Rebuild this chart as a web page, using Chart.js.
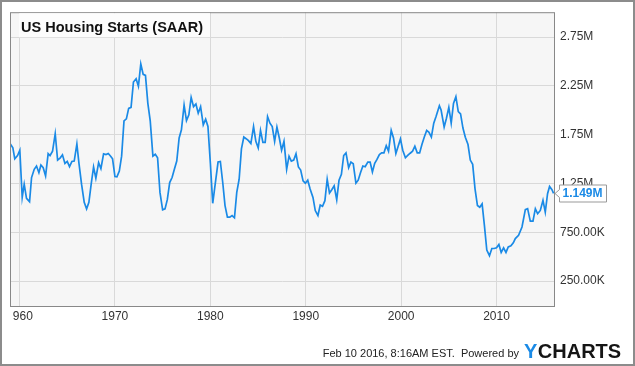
<!DOCTYPE html>
<html><head><meta charset="utf-8">
<script src="https://cdn.jsdelivr.net/npm/chart.js@4.4.1/dist/chart.umd.min.js"></script>
<style>html,body{margin:0;padding:0;background:#fff;overflow:hidden}canvas{display:block}</style>
</head><body>
<canvas id="c" width="635" height="366"></canvas>
<script>
// Decimal-year dates of the plotted readings
const dates = [1959.0,1959.3,1959.5,1959.79,1960.03,1960.28,1960.49,1960.73,1961.05,1961.26,1961.54,1961.78,1962.03,1962.24,1962.48,1962.73,1963.0,1963.2,1963.46,1963.74,1963.99,1964.27,1964.5,1964.76,1965.0,1965.24,1965.49,1965.73,1966.01,1966.22,1966.5,1966.78,1967.03,1967.27,1967.51,1967.76,1968.0,1968.29,1968.53,1968.81,1969.06,1969.3,1969.55,1969.75,1970.0,1970.21,1970.46,1970.7,1970.95,1971.2,1971.44,1971.69,1971.94,1972.22,1972.46,1972.71,1972.96,1973.2,1973.45,1973.7,1973.98,1974.23,1974.47,1974.72,1975.0,1975.25,1975.49,1975.74,1975.99,1976.23,1976.48,1976.73,1976.97,1977.25,1977.5,1977.75,1977.99,1978.24,1978.49,1978.73,1978.98,1979.26,1979.51,1979.75,1980.0,1980.25,1980.53,1980.81,1981.05,1981.3,1981.54,1981.79,1982.04,1982.28,1982.53,1982.77,1983.02,1983.26,1983.51,1983.75,1984.0,1984.25,1984.53,1984.77,1985.02,1985.26,1985.51,1985.75,1986.0,1986.25,1986.49,1986.74,1986.98,1987.23,1987.47,1987.72,1988.0,1988.25,1988.49,1988.74,1988.98,1989.23,1989.47,1989.72,1989.96,1990.21,1990.46,1990.76,1991.0,1991.28,1991.52,1991.76,1992.01,1992.25,1992.49,1992.73,1992.98,1993.25,1993.49,1993.74,1993.98,1994.22,1994.5,1994.74,1994.98,1995.26,1995.5,1995.74,1995.99,1996.23,1996.51,1996.75,1996.99,1997.23,1997.47,1997.72,1997.96,1998.2,1998.44,1998.68,1998.96,1999.2,1999.45,1999.69,1999.93,2000.17,2000.45,2000.69,2000.95,2001.2,2001.44,2001.69,2001.94,2002.18,2002.43,2002.68,2002.92,2003.17,2003.42,2003.66,2004.01,2004.19,2004.51,2004.75,2005.0,2005.25,2005.49,2005.74,2005.99,2006.23,2006.48,2006.73,2007.01,2007.25,2007.5,2007.75,2008.0,2008.24,2008.49,2008.73,2008.98,2009.26,2009.51,2009.75,2010.0,2010.25,2010.49,2010.74,2010.99,2011.23,2011.51,2011.76,2011.97,2012.31,2012.67,2013.02,2013.26,2013.54,2013.82,2014.07,2014.31,2014.59,2014.87,2015.11,2015.35,2015.56,2015.81,2015.98];
// Housing starts, millions of units (SAAR)
const starts = [1.66,1.615,1.503,1.537,1.591,1.108,1.243,1.098,1.064,1.311,1.395,1.429,1.361,1.439,1.412,1.328,1.557,1.537,1.581,1.76,1.49,1.513,1.544,1.456,1.476,1.422,1.476,1.48,1.655,1.463,1.243,1.057,0.99,1.057,1.243,1.419,1.304,1.463,1.402,1.554,1.547,1.557,1.53,1.503,1.321,1.318,1.378,1.53,1.892,1.912,2.02,2.03,2.29,2.324,2.247,2.476,2.368,2.358,2.071,1.892,1.53,1.55,1.514,1.159,0.98,0.99,1.084,1.26,1.311,1.395,1.48,1.716,1.8,2.054,1.895,1.953,2.132,2.037,2.064,1.97,2.037,1.851,1.909,1.834,1.463,1.047,1.26,1.47,1.476,1.26,1.024,0.905,0.905,0.922,0.899,1.159,1.294,1.605,1.726,1.709,1.689,1.659,1.834,1.682,1.615,1.794,1.672,1.672,1.936,1.868,1.834,1.682,1.828,1.716,1.591,1.682,1.395,1.53,1.48,1.49,1.554,1.419,1.388,1.277,1.253,1.284,1.193,1.108,0.973,0.922,1.03,1.017,1.074,1.294,1.152,1.186,1.226,1.084,1.284,1.345,1.537,1.564,1.412,1.47,1.453,1.253,1.284,1.361,1.429,1.422,1.47,1.47,1.368,1.456,1.497,1.547,1.564,1.564,1.638,1.581,1.794,1.716,1.557,1.632,1.706,1.591,1.514,1.537,1.56,1.581,1.632,1.564,1.564,1.649,1.726,1.794,1.774,1.726,1.868,1.936,2.047,2.003,1.828,1.919,2.03,1.868,2.071,2.139,1.986,1.963,1.818,1.723,1.649,1.49,1.446,1.193,1.024,1.007,1.041,0.821,0.568,0.51,0.584,0.584,0.591,0.625,0.544,0.591,0.544,0.601,0.611,0.642,0.686,0.719,0.804,0.982,0.992,0.865,0.865,0.992,0.94,0.974,1.077,0.957,1.145,1.219,1.186,1.149];
const xTicks = [1960,1970,1980,1990,2000,2010];
const yTicks = [0.25,0.75,1.25,1.75,2.25,2.75];
const titleText = 'US Housing Starts (SAAR)';
const lastLabel = '1.149M';
const footerText = 'Feb 10 2016, 8:16AM EST.  Powered by';

const BLUE = '#1a8ae6';
const FONT = '"Liberation Sans", Arial, sans-serif';

const frame = {
  id: 'frame',
  beforeDraw(chart) {
    const {ctx, chartArea: a} = chart;
    ctx.save();
    ctx.fillStyle = '#fff';
    ctx.fillRect(0, 0, chart.width, chart.height);
    ctx.fillStyle = '#f6f6f6';
    ctx.fillRect(a.left, a.top, a.right - a.left, a.bottom - a.top);
    ctx.restore();
  },
  afterDraw(chart) {
    const {ctx, chartArea: a} = chart;
    ctx.save();
    // plot border
    ctx.strokeStyle = '#888';
    ctx.lineWidth = 1;
    ctx.strokeRect(a.left + 0.5, a.top + 0.5, a.right - a.left - 1, a.bottom - a.top);
    // title box
    ctx.fillStyle = 'rgba(252,252,252,1)';
    ctx.fillRect(a.left + 9, a.top + 1, 191, 24);
    ctx.fillStyle = '#111';
    ctx.font = 'bold 14.5px ' + FONT;
    ctx.textBaseline = 'alphabetic';
    ctx.textAlign = 'left';
    ctx.fillText(titleText, a.left + 11, a.top + 19.5);
    // last value tag
    const ys = chart.scales.y;
    const yy = Math.round(ys.getPixelForValue(starts[starts.length - 1])) + 0.5;
    const bx = 559.5, bw = 47, bh = 17;
    ctx.beginPath();
    ctx.moveTo(555, yy);
    ctx.lineTo(bx, yy - 4);
    ctx.lineTo(bx, yy - bh / 2);
    ctx.lineTo(bx + bw, yy - bh / 2);
    ctx.lineTo(bx + bw, yy + bh / 2);
    ctx.lineTo(bx, yy + bh / 2);
    ctx.lineTo(bx, yy + 4);
    ctx.closePath();
    ctx.fillStyle = '#fff';
    ctx.fill();
    ctx.strokeStyle = '#999';
    ctx.stroke();
    ctx.fillStyle = BLUE;
    ctx.font = 'bold 12px ' + FONT;
    ctx.textBaseline = 'middle';
    ctx.fillText(lastLabel, bx + 3, yy + 0.5);
    // footer
    ctx.fillStyle = '#222';
    ctx.font = '11px ' + FONT;
    ctx.textAlign = 'right';
    ctx.textBaseline = 'alphabetic';
    ctx.fillText(footerText, 519, 357);
    ctx.textAlign = 'left';
    ctx.font = 'bold 20px ' + FONT;
    ctx.fillStyle = BLUE;
    ctx.fillText('Y', 524, 357.5);
    const yw = ctx.measureText('Y').width;
    ctx.fillStyle = '#151515';
    ctx.fillText('CHARTS', 524 + yw + 0.5, 357.5);
    // outer frame
    ctx.strokeStyle = '#8c8c8c';
    ctx.lineWidth = 2;
    ctx.strokeRect(1, 1, chart.width - 2, chart.height - 2);
    ctx.restore();
  }
};

new Chart(document.getElementById('c'), {
  type: 'line',
  data: {
    datasets: [{
      data: dates.map((d, i) => ({x: d, y: starts[i]})),
      borderColor: BLUE,
      borderWidth: 1.7,
      pointRadius: 0,
      tension: 0,
      fill: false
    }]
  },
  options: {
    responsive: false,
    animation: false,
    devicePixelRatio: 1,
    layout: {padding: {left: 10, top: 10, right: 0, bottom: 0}},
    plugins: {legend: {display: false}, tooltip: {enabled: false}},
    scales: {
      x: {
        type: 'linear', min: 1959.0, max: 2016.13,
        afterBuildTicks: s => { s.ticks = xTicks.map(v => ({value: v})); },
        afterFit: s => { s.height = 60; },
        grid: {color: '#d9d9d9', lineWidth: 1, drawTicks: false},
        border: {display: false},
        ticks: {
          padding: 3, color: '#333', font: {family: FONT, size: 12}, maxRotation: 0,
          callback: v => v === 1960 ? '  960' : String(v)
        }
      },
      y: {
        position: 'right', min: -0.005, max: 3.005,
        afterBuildTicks: s => { s.ticks = yTicks.map(v => ({value: v})); },
        afterFit: s => { s.width = 80; },
        grid: {color: '#d9d9d9', lineWidth: 1, drawTicks: false},
        border: {display: false},
        ticks: {
          padding: 5, color: '#333', font: {family: FONT, size: 12},
          callback: v => v >= 1 ? v.toFixed(2) + 'M' : (v * 1000).toFixed(2) + 'K'
        }
      }
    }
  },
  plugins: [frame]
});
</script>
</body></html>
